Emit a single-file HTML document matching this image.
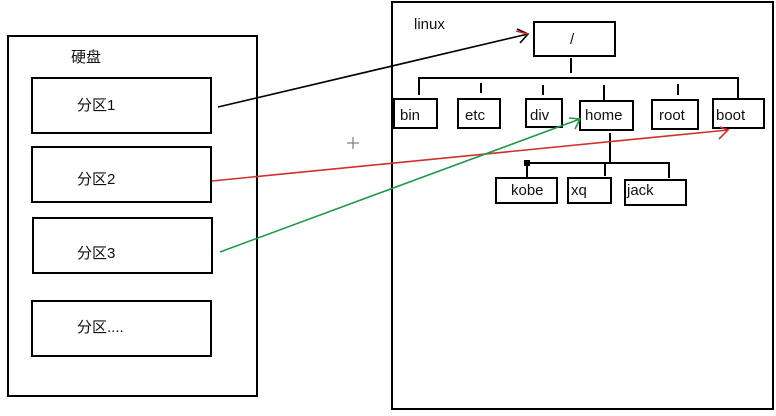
<!DOCTYPE html>
<html><head><meta charset="utf-8"><style>
html,body{margin:0;padding:0;background:#fff;}
svg{display:block;}
text{font-family:"Liberation Sans","Noto Sans CJK SC",sans-serif;font-size:15px;fill:#111;}
</style></head><body>
<svg width="776" height="416" viewBox="0 0 776 416" xmlns="http://www.w3.org/2000/svg">
<g fill="none" stroke="#000" stroke-width="2">
<rect x="8" y="36" width="249" height="360"/>
<rect x="32" y="78" width="179" height="55"/>
<rect x="32" y="147" width="179" height="55"/>
<rect x="33" y="218" width="179" height="55"/>
<rect x="32" y="301" width="179" height="55"/>
<rect x="392" y="2" width="381" height="407"/>
<rect x="534" y="22" width="81" height="34"/>
<line x1="571" y1="58" x2="571" y2="73"/>
<polyline points="419,95 419,78 738,78 738,98"/>
<line x1="481" y1="83" x2="481" y2="93"/>
<line x1="543" y1="85" x2="543" y2="95"/>
<line x1="604" y1="85" x2="604" y2="100"/>
<line x1="678" y1="84" x2="678" y2="95"/>
<rect x="394" y="99" width="43" height="29"/>
<rect x="458" y="99" width="42" height="29"/>
<rect x="526" y="99" width="36" height="28"/>
<rect x="580" y="101" width="53" height="29"/>
<rect x="652" y="100" width="46" height="29"/>
<rect x="713" y="99" width="51" height="29"/>
<line x1="610" y1="133" x2="610" y2="163"/>
<polyline points="527,178 527,163 669,163 669,178"/>
<line x1="605" y1="163" x2="605" y2="176"/>
<rect x="496" y="178" width="61" height="25"/>
<rect x="568" y="178" width="43" height="25"/>
<rect x="625" y="180" width="61" height="25"/>
</g>
<rect x="524" y="160" width="6" height="6" fill="#000"/>
<g fill="none" stroke-width="1.6">
<line x1="218" y1="107" x2="528" y2="34" stroke="#000"/>
<polyline points="517,29 528,34 520,43" stroke="#000"/>
<line x1="516" y1="31" x2="528" y2="34" stroke="#d22" />
<line x1="212" y1="181" x2="728" y2="130" stroke="#d0302a"/>
<polyline points="720,127 728,130 719,139" stroke="#d0302a"/>
<line x1="220" y1="252" x2="580" y2="119" stroke="#1f9a48"/>
<polyline points="569,118 580,119 575,129" stroke="#1f9a48"/>
</g>
<g stroke="#666" stroke-width="1">
<line x1="347" y1="143" x2="359" y2="143"/><line x1="353" y1="137" x2="353" y2="149"/>
</g>
<text x="71" y="62">硬盘</text>
<text x="77" y="110">分区1</text>
<text x="77" y="184">分区2</text>
<text x="77" y="258">分区3</text>
<text x="77" y="332">分区....</text>
<text x="414" y="29">linux</text>
<text x="570" y="44">/</text>
<text x="400" y="120">bin</text>
<text x="465" y="120">etc</text>
<text x="530" y="120">div</text>
<text x="585" y="120">home</text>
<text x="659" y="120">root</text>
<text x="716" y="120">boot</text>
<text x="511" y="195">kobe</text>
<text x="571" y="195">xq</text>
<text x="627" y="195">jack</text>
</svg>
</body></html>
